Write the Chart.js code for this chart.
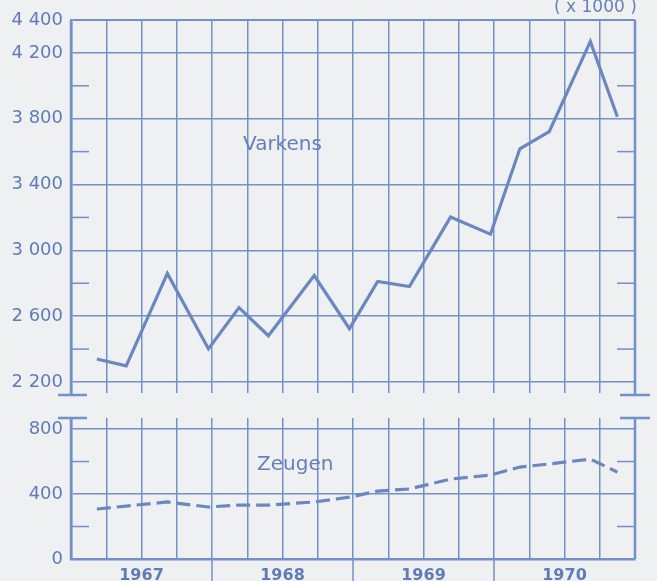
<!DOCTYPE html>
<html>
<head>
<meta charset="utf-8">
<script src="https://cdn.jsdelivr.net/npm/chart.js@4/dist/chart.umd.min.js"></script>
<style>
    html, body { margin: 0; padding: 0; background: #eef0f1; }
    #wrap { position: relative; width: 657px; height: 581px; overflow: hidden; }
    canvas { position: absolute; left: 0; }
    #topChart { top: 0; }
    #bottomChart { top: 400px; }
    .lbl { position: absolute; color: #6580bb; font-family: 'DejaVu Sans', sans-serif; white-space: nowrap; }
</style>
</head>
<body>
<div id="wrap">
    <canvas id="topChart" width="657" height="400"></canvas>
    <canvas id="bottomChart" width="657" height="181"></canvas>
    <div class="lbl" style="left:243px; top:133px; font-size:20px; line-height:20px;">Varkens</div>
    <div class="lbl" style="left:257px; top:453px; font-size:20px; line-height:20px;">Zeugen</div>
    <div class="lbl" style="left:554px; top:-2px; font-size:17px; line-height:17px;">( x 1000 )</div>
</div>
<script>
// survey moments, in months since January 1967
const months = [2.2, 4.7, 8.2, 11.7, 14.3, 16.8, 20.7, 23.7, 26.1, 28.8, 32.3, 35.7, 38.2, 40.7, 44.2, 46.5];
const years = ['1967', '1968', '1969', '1970'];

// pigs (x 1000)
const varkens = [2340, 2298, 2860, 2401, 2652, 2481, 2847, 2524, 2811, 2780, 3202, 3098, 3617, 3721, 4270, 3812];
// sows (x 1000)
const zeugen = [308, 326, 351, 320, 332, 332, 351, 381, 418, 431, 492, 517, 566, 585, 615, 535];

const varkensTicks = [2200, 2600, 3000, 3400, 3800, 4200, 4400];
const varkensMinor = [2400, 2800, 3200, 3600, 4000];
const zeugenTicks = [0, 400, 800];
const zeugenMinor = [200, 600];

const gridColor = '#7391c8';
const lineColor = '#6a87c0';
const textColor = '#607cb8';

function fmt(v) {
    return String(v).replace(/\B(?=(\d{3})+(?!\d))/g, ' ');
}

function line(ctx, x1, y1, x2, y2) {
    ctx.beginPath();
    ctx.moveTo(x1, y1);
    ctx.lineTo(x2, y2);
    ctx.stroke();
}

/**
 * Frame: right border, short ticks, axis-break caps, year separators
 */
const framePlugin = {
    id: 'frame',
    afterDraw(chart, args, opts) {
        const { ctx, chartArea: a, scales } = chart;
        ctx.save();
        ctx.strokeStyle = gridColor;

        const capY = opts.cap === 'bottom' ? a.bottom + 2 : a.top;
        ctx.lineWidth = 2.5;
        line(ctx, a.left, a.top, a.left, Math.max(capY, a.bottom));
        line(ctx, a.right, a.top, a.right, Math.max(capY, a.bottom));
        line(ctx, a.left - 13, capY, a.left + 16, capY);
        line(ctx, a.right - 15, capY, a.right + 15, capY);

        ctx.lineWidth = 1.5;
        opts.minor.forEach(v => {
            const y = scales.y.getPixelForValue(v);
            line(ctx, a.left, y, a.left + 18, y);
            line(ctx, a.right - 18, y, a.right, y);
        });

        if (opts.yearTicks) {
            years.slice(1).forEach((_, i) => {
                const x = scales.x.getPixelForValue((i + 1) * 12);
                line(ctx, x, a.bottom, x, a.bottom + 22);
            });
        }
        ctx.restore();
    }
};

function xScale(showLabels) {
    return {
        type: 'linear',
        min: 0,
        max: 48,
        afterFit: s => {
            s.height = showLabels ? 22 : 0;
            s.paddingLeft = 0;
            s.paddingRight = 0;
        },
        ticks: {
            display: showLabels,
            stepSize: 3,
            autoSkip: false,
            maxRotation: 0,
            padding: 7,
            color: textColor,
            font: { family: 'DejaVu Sans', size: 16, weight: 'bold' },
            callback: v => (v % 12 === 6 ? years[(v - 6) / 12] : '')
        },
        grid: { color: gridColor, lineWidth: 1.5, drawTicks: false },
        border: { display: showLabels, color: gridColor, width: 2.5 }
    };
}

function yScale(min, max, ticks, topValue) {
    return {
        min: min,
        max: max,
        afterFit: s => {
            s.width = 71;
            s.paddingTop = 0;
            s.paddingBottom = 0;
        },
        afterBuildTicks: axis => { axis.ticks = ticks.map(v => ({ value: v })); },
        ticks: {
            padding: 8,
            color: textColor,
            font: { family: 'DejaVu Sans', size: 18 },
            callback: v => fmt(v)
        },
        grid: {
            color: gridColor,
            lineWidth: c => (c.tick && c.tick.value === topValue ? 2 : 1.5),
            drawTicks: false
        },
        border: { display: true, color: gridColor, width: 2.5 }
    };
}

new Chart(document.getElementById('topChart'), {
    type: 'line',
    data: {
        datasets: [{
            data: months.map((m, i) => ({ x: m, y: varkens[i] })),
            borderColor: lineColor,
            borderWidth: 3.2,
            pointRadius: 0,
            tension: 0
        }]
    },
    options: {
        responsive: false,
        animation: false,
        layout: { padding: { top: 20, right: 22, left: 0, bottom: 7 } },
        plugins: {
            legend: { display: false },
            tooltip: { enabled: false },
            frame: { cap: 'bottom', minor: varkensMinor }
        },
        scales: {
            x: xScale(false),
            y: yScale(2133, 4400, varkensTicks, 4400)
        }
    },
    plugins: [framePlugin]
});

new Chart(document.getElementById('bottomChart'), {
    type: 'line',
    data: {
        datasets: [{
            data: months.map((m, i) => ({ x: m, y: zeugen[i] })),
            borderColor: lineColor,
            borderWidth: 3.2,
            borderDash: [14, 6],
            pointRadius: 0,
            tension: 0
        }]
    },
    options: {
        responsive: false,
        animation: false,
        layout: { padding: { top: 18, right: 22, left: 0, bottom: 0 } },
        plugins: {
            legend: { display: false },
            tooltip: { enabled: false },
            frame: { cap: 'top', minor: zeugenMinor, yearTicks: true }
        },
        scales: {
            x: xScale(true),
            y: yScale(0, 868, zeugenTicks, null)
        }
    },
    plugins: [framePlugin]
});
</script>
</body>
</html>
